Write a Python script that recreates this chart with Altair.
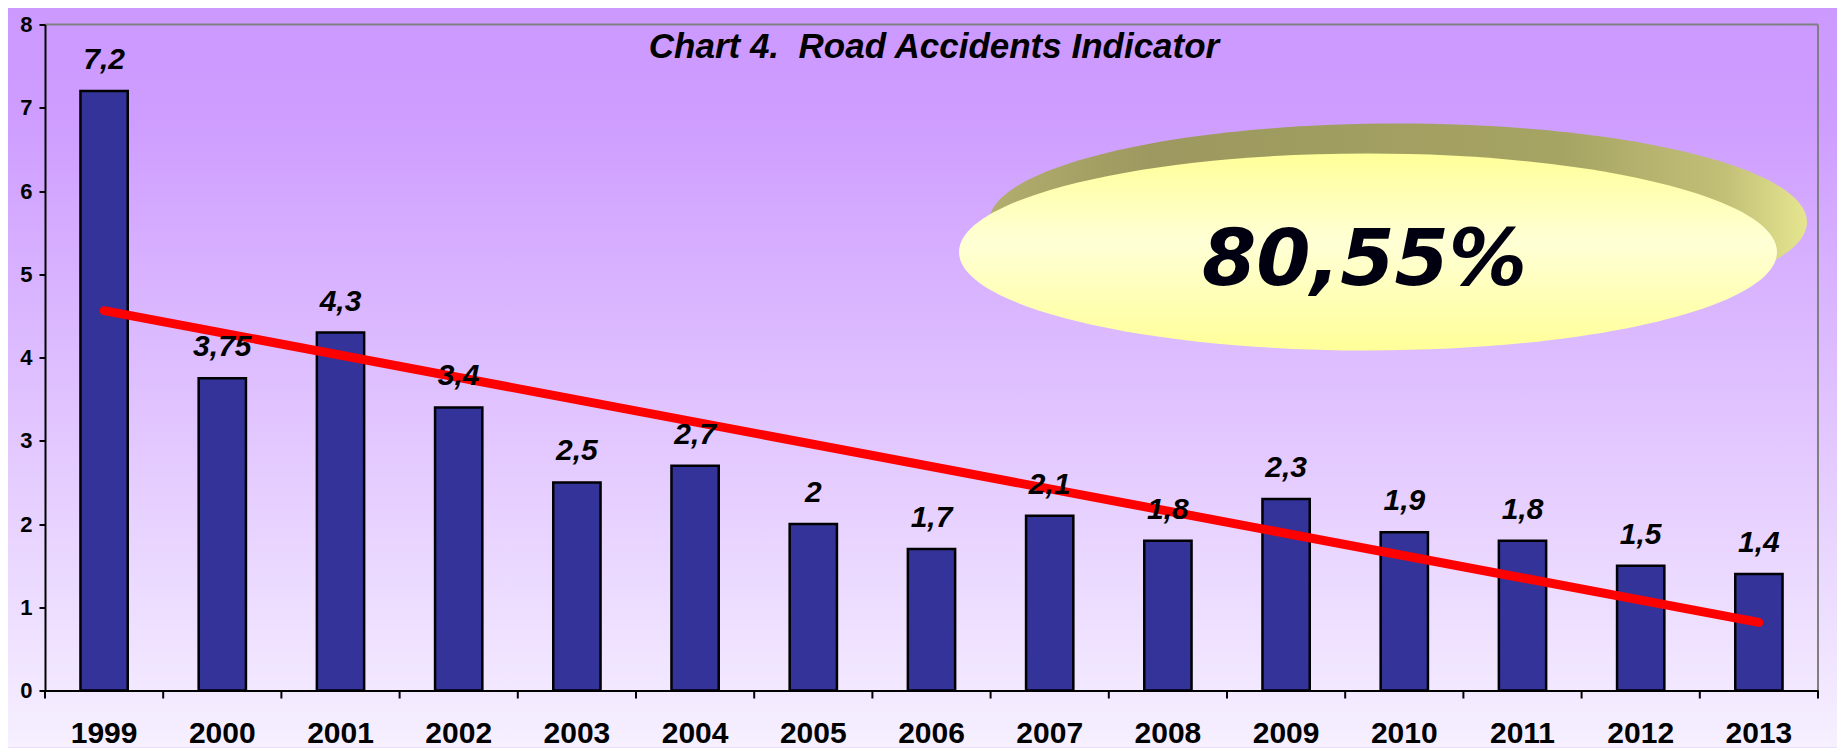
import altair as alt
import pandas as pd

years = [1999, 2000, 2001, 2002, 2003, 2004, 2005, 2006, 2007, 2008, 2009, 2010, 2011, 2012, 2013]
values = [7.2, 3.75, 4.3, 3.4, 2.5, 2.7, 2.0, 1.7, 2.1, 1.8, 2.3, 1.9, 1.8, 1.5, 1.4]
labels = ["7,2", "3,75", "4,3", "3,4", "2,5", "2,7", "2", "1,7", "2,1", "1,8", "2,3", "1,9", "1,8", "1,5", "1,4"]
y_ticks = [0, 1, 2, 3, 4, 5, 6, 7, 8]
title_text = "Chart 4.\u00a0 Road Accidents Indicator"
badge_text = "80,55%"

W, H = 1773, 666
PAD_L, PAD_T, PAD_R, PAD_B = 37, 16.5, 19, 57
P_INNER, P_OUTER = 0.6, 0.3
STEP = W / (len(years) - P_INNER + 2 * P_OUTER)

df = pd.DataFrame({"year": years, "value": values, "label": labels})
one = pd.DataFrame({"k": [0]})

xenc = alt.X("year:O", scale=alt.Scale(paddingInner=P_INNER, paddingOuter=P_OUTER),
             axis=alt.Axis(title=None, labelAngle=0, labelFont="Liberation Sans",
                           labelFontSize=30, labelFontWeight="bold", labelColor="black",
                           labelPadding=28, domainColor="black", domainWidth=2,
                           ticks=False, zindex=2))
yenc = alt.Y("value:Q", scale=alt.Scale(domain=[0, 8], nice=False),
             axis=alt.Axis(title=None, values=y_ticks, format="d", grid=False,
                           labelFont="Liberation Sans",
                           labelFontSize=22, labelFontWeight="bold", labelColor="black",
                           labelPadding=7, domainColor="black", domainWidth=2,
                           tickColor="black", tickWidth=2, tickSize=6, zindex=2))

bg = alt.Chart(one).mark_rect(
    fill=alt.LinearGradient(gradient="linear", x1=0, y1=0, x2=0, y2=1,
                            stops=[alt.GradientStop(offset=0, color="#CC99FF"),
                                   alt.GradientStop(offset=0.15, color="#CE9DFF"),
                                   alt.GradientStop(offset=1, color="#F6F0FF")])
).encode(x=alt.value(-PAD_L), x2=alt.value(W + PAD_R), y=alt.value(-PAD_T), y2=alt.value(H + PAD_B))

border_top = alt.Chart(one).mark_rule(color="#808080", strokeWidth=2).encode(
    x=alt.value(0), x2=alt.value(W), y=alt.value(0))
border_right = alt.Chart(one).mark_rule(color="#808080", strokeWidth=2).encode(
    x=alt.value(W), y=alt.value(0), y2=alt.value(H))
end_tick = alt.Chart(one).mark_rule(color="black", strokeWidth=2).encode(
    x=alt.value(W), y=alt.value(H), y2=alt.value(H + 8))

k = 0.5523
r = 98.5 / 409
kr = k * r
ell = (f"M -1 0 C -1 {-kr:.4f} {-k} {-r:.4f} 0 {-r:.4f} C {k} {-r:.4f} 1 {-kr:.4f} 1 0 "
       f"C 1 {kr:.4f} {k} {r:.4f} 0 {r:.4f} C {-k} {r:.4f} -1 {kr:.4f} -1 0 Z")
ell_size = (2 * 409) ** 2

back = alt.Chart(one).mark_point(
    shape=ell, size=ell_size, filled=True, opacity=1, strokeWidth=0,
    fill=alt.LinearGradient(gradient="linear", x1=0, y1=0, x2=1, y2=0,
                            stops=[alt.GradientStop(offset=0, color="#B2AE6E"),
                                   alt.GradientStop(offset=0.2, color="#9C985F"),
                                   alt.GradientStop(offset=0.7, color="#A6A463"),
                                   alt.GradientStop(offset=0.9, color="#C2C077"),
                                   alt.GradientStop(offset=1, color="#E6E690")])
).encode(x=alt.value(1353), y=alt.value(197.5))

front = alt.Chart(one).mark_point(
    shape=ell, size=ell_size, filled=True, opacity=1, strokeWidth=0,
    fill=alt.LinearGradient(gradient="linear", x1=0, y1=0, x2=0, y2=1,
                            stops=[alt.GradientStop(offset=0, color="#FFFF99"),
                                   alt.GradientStop(offset=0.45, color="#FFFFD6"),
                                   alt.GradientStop(offset=1, color="#FFFF99")])
).encode(x=alt.value(1323), y=alt.value(227.5))

badge = alt.Chart(one).mark_text(
    text=badge_text, font="DejaVu Sans", fontSize=78, fontWeight="bold", fontStyle="italic",
    color="#000011", align="center", baseline="alphabetic"
).encode(x=alt.value(1319.5), y=alt.value(260.5))

title = alt.Chart(one).mark_text(
    text=title_text, font="Liberation Sans", fontSize=35, fontWeight="bold", fontStyle="italic",
    color="black", align="center", baseline="alphabetic"
).encode(x=alt.value(889), y=alt.value(33.5))

base = alt.Chart(df)
bars = base.mark_bar(color="#333399", stroke="black", strokeWidth=2.5).encode(x=xenc, y=yenc)
xticks = base.mark_rule(color="black", strokeWidth=2, xOffset=-P_INNER * STEP / 2).encode(
    x=alt.X("year:O", bandPosition=0), y=alt.value(H), y2=alt.value(H + 8))
trend = base.transform_regression("year", "value").mark_line(
    color="#FF0000", strokeWidth=9, strokeCap="round"
).encode(x=alt.X("year:O"), y=alt.Y("value:Q"))
texts = base.mark_text(
    font="Liberation Sans", fontSize=30, fontWeight="bold", fontStyle="italic",
    color="black", align="center", baseline="alphabetic", dy=-22
).encode(x=alt.X("year:O"), y=alt.Y("value:Q"), text="label:N")

chart = alt.layer(bg, border_top, border_right, back, front, badge, bars, xticks, end_tick,
                  trend, texts, title).properties(
    width=W, height=H,
    autosize=alt.AutoSizeParams(type="none"),
    padding={"left": PAD_L, "top": PAD_T, "right": PAD_R, "bottom": PAD_B},
    background="#E0CCFF",
).configure_view(stroke=None)

chart.save("out.html", embed_options={"renderer": "svg", "actions": False})
